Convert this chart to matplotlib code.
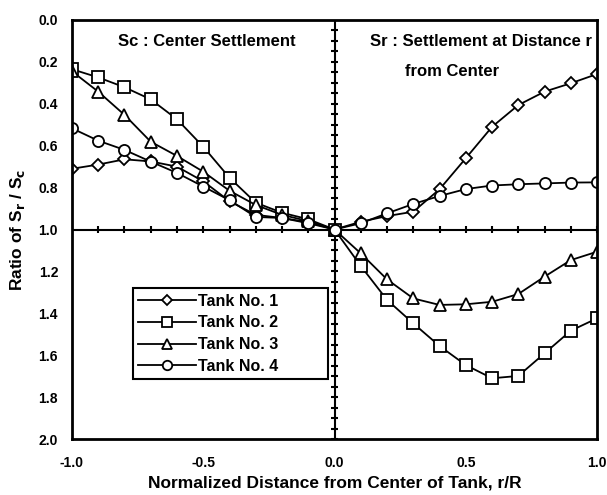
"""Settlement ratio Sr/Sc across the tank diameter for four tanks."""
import numpy as np
import matplotlib
matplotlib.use("Agg")
import matplotlib.pyplot as plt
from matplotlib.ticker import FormatStrFormatter

plt.rcParams["font.family"] = ["Liberation Sans", "DejaVu Sans"]
plt.rcParams["font.weight"] = "bold"
plt.rcParams["mathtext.default"] = "bf"

r_over_R = [-1.0, -0.9, -0.8, -0.7, -0.6, -0.5, -0.4, -0.3, -0.2, -0.1, 0.0,
            0.1, 0.2, 0.3, 0.4, 0.5, 0.6, 0.7, 0.8, 0.9, 1.0]
tank1 = [0.71, 0.69, 0.665, 0.675, 0.70, 0.77, 0.865, 0.93, 0.945, 0.965, 1.0,
         0.963, 0.936, 0.915, 0.808, 0.66, 0.51, 0.406, 0.342, 0.302, 0.258]
tank2 = [0.235, 0.274, 0.321, 0.379, 0.474, 0.605, 0.753, 0.872, 0.92, 0.951, 1.0,
         1.174, 1.336, 1.448, 1.556, 1.647, 1.71, 1.699, 1.591, 1.483, 1.424]
tank3 = [0.245, 0.342, 0.453, 0.581, 0.649, 0.724, 0.815, 0.883, 0.93, 0.96, 1.0,
         1.114, 1.238, 1.329, 1.36, 1.357, 1.345, 1.308, 1.225, 1.146, 1.106]
tank4 = [0.517, 0.576, 0.62, 0.676, 0.73, 0.795, 0.86, 0.94, 0.945, 0.97, 1.0,
         0.97, 0.923, 0.878, 0.84, 0.807, 0.79, 0.784, 0.78, 0.776, 0.775]

series = [("Tank No. 1", tank1, "D", 6),
          ("Tank No. 2", tank2, "s", 8),
          ("Tank No. 3", tank3, "^", 8),
          ("Tank No. 4", tank4, "o", 8)]

fig = plt.figure(figsize=(6.07, 4.95), dpi=100)
ax = fig.add_axes([0.1186, 0.1131, 0.865, 0.8465])

# centre cross (x = 0, ratio = 1.0) with in-out tick marks every 0.1 / 0.05
ax.axhline(1.0, color="black", lw=1.5, zorder=1.5)
ax.axvline(0.0, color="black", lw=1.5, zorder=1.5)
cross_x = np.arange(-10, 11) / 10
cross_y = np.arange(0, 41) / 20
ax.vlines(cross_x, 0.983, 1.017, colors="black", lw=1.5, zorder=1.6)
ax.hlines(cross_y, -0.013, 0.013, colors="black", lw=1.5, zorder=1.6)

for label, vals, mk, ms in series:
    ax.plot(r_over_R, vals, color="black", lw=1.3, marker=mk, ms=ms,
            mfc="white", mec="black", mew=1.3, label=label, zorder=3)

ax.set_xlim(-1.0, 1.0)
ax.set_ylim(2.0, 0.0)
ax.set_xticks([-1.0, -0.5, 0.0, 0.5, 1.0])
ax.set_yticks(np.arange(0.0, 2.01, 0.2))
ax.xaxis.set_major_formatter(FormatStrFormatter("%.1f"))
ax.yaxis.set_major_formatter(FormatStrFormatter("%.1f"))
ax.tick_params(length=0, labelsize=10)
ax.tick_params(axis="x", pad=12)
ax.tick_params(axis="y", pad=10)
for lab in ax.get_xticklabels() + ax.get_yticklabels():
    lab.set_fontweight("bold")
for sp in ax.spines.values():
    sp.set_linewidth(2)
    sp.set_zorder(4)

ax.set_xlabel("Normalized Distance from Center of Tank, r/R",
              fontsize=12.5, fontweight="bold", labelpad=4)
ax.set_ylabel("Ratio of S$_r$ / S$_c$", fontsize=12.5,
              fontweight="bold", labelpad=8)

ax.text(-0.825, 0.103, "Sc : Center Settlement", fontsize=12,
        fontweight="bold", va="center")
ax.text(0.135, 0.103, "Sr : Settlement at Distance r", fontsize=12,
        fontweight="bold", va="center")
ax.text(0.448, 0.247, "from Center", fontsize=12, fontweight="bold",
        ha="center", va="center")

leg = ax.legend(loc="upper left", bbox_to_anchor=(0.116, 0.36, 0.371, 0.0),
                mode="expand", fontsize=11.5, frameon=True, fancybox=False,
                framealpha=1, edgecolor="black", handlelength=3.6,
                borderpad=0.35, labelspacing=0.42, handletextpad=0.1,
                borderaxespad=0, markerscale=0.85)
leg.get_frame().set_linewidth(1.5)
for t in leg.get_texts():
    t.set_fontweight("bold")
leg.set_zorder(5)

fig.savefig("out.png", dpi=100)
